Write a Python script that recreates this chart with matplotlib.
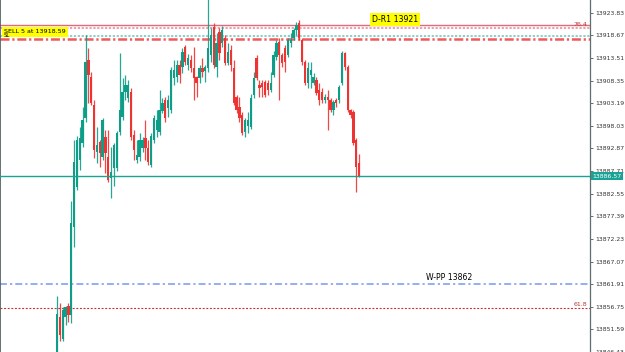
import matplotlib
matplotlib.use('Agg')
import matplotlib.pyplot as plt
import numpy as np

plt.rcParams.update({
    "font.family": "sans-serif",
    "font.sans-serif": ["DejaVu Sans"],
    "lines.scale_dashes": False,
})

# OHLC (one candle per bar, left to right)
opens = [13846.4, 13854.3, 13849.5, 13854.3, 13857.0, 13854.8, 13874.9, 13884.0, 13890.2, 13894.0,
         13899.8, 13913.0, 13909.1, 13902.7, 13892.0, 13894.3, 13890.8, 13895.4, 13890.8, 13886.1,
         13888.3, 13888.3, 13896.5, 13900.0, 13905.7, 13904.3, 13905.7, 13895.9, 13890.2, 13890.8,
         13892.9, 13895.2, 13892.9, 13889.0, 13894.7, 13897.0, 13896.5, 13901.4, 13903.9, 13902.0,
         13901.6, 13908.9, 13909.1, 13911.8, 13911.4, 13915.9, 13911.8, 13913.0, 13911.1, 13909.1,
         13908.9, 13911.1, 13910.5, 13911.1, 13914.1, 13920.5, 13911.4, 13919.4, 13916.9, 13918.0,
         13912.3, 13915.3, 13911.1, 13904.5, 13902.3, 13900.4, 13896.5, 13898.0, 13897.7, 13905.0,
         13913.4, 13907.3, 13907.7, 13908.0, 13907.7, 13906.1, 13909.6, 13913.7, 13917.1, 13914.1,
         13915.7, 13914.1, 13916.8, 13918.0, 13919.8, 13921.4, 13917.5, 13912.5, 13907.9, 13909.6,
         13907.9, 13908.4, 13906.1, 13905.7, 13903.9, 13904.5, 13903.9, 13901.6, 13903.9, 13903.9,
         13907.7, 13914.6, 13911.4, 13901.6, 13901.1, 13894.7, 13889.5]
highs = [13859.3, 13857.7, 13856.6, 13857.0, 13857.5, 13880.8, 13894.7, 13895.8, 13897.7, 13902.3,
         13918.7, 13915.7, 13910.2, 13903.9, 13897.7, 13894.7, 13899.8, 13897.0, 13897.0, 13893.1,
         13894.0, 13896.8, 13914.6, 13908.9, 13909.6, 13908.4, 13906.6, 13897.0, 13894.7, 13896.3,
         13895.4, 13899.3, 13894.7, 13896.3, 13900.4, 13901.6, 13906.1, 13904.3, 13904.5, 13905.0,
         13911.4, 13913.0, 13913.0, 13913.0, 13915.7, 13916.4, 13914.4, 13914.1, 13915.9, 13909.3,
         13911.8, 13913.5, 13912.0, 13930.0, 13920.3, 13921.4, 13919.1, 13920.3, 13920.7, 13918.7,
         13917.0, 13916.4, 13913.0, 13905.0, 13904.5, 13901.1, 13899.8, 13901.1, 13905.2, 13910.2,
         13914.1, 13908.4, 13908.4, 13908.4, 13908.4, 13910.2, 13915.0, 13917.5, 13918.0, 13914.6,
         13916.4, 13918.0, 13919.1, 13920.3, 13921.7, 13922.1, 13918.0, 13913.0, 13912.5, 13912.5,
         13910.0, 13909.1, 13907.9, 13906.6, 13905.2, 13906.1, 13904.3, 13903.9, 13904.3, 13907.3,
         13915.0, 13914.8, 13911.8, 13901.8, 13901.6, 13895.2, 13891.6]
lows = [13845.4, 13849.0, 13849.0, 13852.5, 13853.2, 13853.0, 13870.3, 13883.3, 13887.9, 13893.1,
        13898.9, 13903.2, 13902.7, 13890.6, 13889.5, 13888.6, 13890.2, 13887.2, 13885.1, 13881.5,
        13884.4, 13887.7, 13895.9, 13899.3, 13903.9, 13903.4, 13894.7, 13890.2, 13889.5, 13890.0,
        13892.0, 13890.2, 13889.0, 13888.6, 13894.0, 13895.4, 13895.9, 13900.9, 13898.9, 13900.0,
        13901.0, 13907.3, 13908.0, 13907.7, 13910.0, 13911.8, 13910.7, 13910.2, 13903.9, 13904.5,
        13907.7, 13909.1, 13908.0, 13910.2, 13912.5, 13911.1, 13909.1, 13913.0, 13916.0, 13911.8,
        13912.0, 13910.5, 13902.7, 13901.0, 13898.9, 13895.9, 13895.4, 13896.3, 13897.2, 13904.3,
        13908.4, 13904.5, 13904.5, 13904.5, 13905.0, 13905.7, 13909.1, 13913.0, 13903.9, 13911.4,
        13910.2, 13913.7, 13916.0, 13917.5, 13918.7, 13917.5, 13911.8, 13907.3, 13906.6, 13906.6,
        13907.3, 13905.0, 13902.7, 13903.2, 13903.2, 13897.0, 13901.1, 13900.4, 13902.3, 13903.2,
        13907.3, 13910.7, 13901.1, 13899.8, 13893.6, 13882.9, 13886.3]
closes = [13855.2, 13850.2, 13855.9, 13856.6, 13854.8, 13875.8, 13889.7, 13894.7, 13895.2, 13899.3,
          13912.5, 13909.6, 13903.2, 13892.4, 13893.6, 13891.8, 13899.3, 13891.8, 13885.6, 13887.4,
          13893.6, 13896.3, 13901.6, 13905.7, 13907.3, 13907.3, 13895.4, 13892.4, 13891.3, 13894.7,
          13894.7, 13892.9, 13889.7, 13895.6, 13899.8, 13899.3, 13901.6, 13903.2, 13899.8, 13903.9,
          13910.7, 13910.7, 13911.8, 13909.6, 13914.8, 13912.5, 13913.5, 13911.1, 13908.9, 13907.7,
          13911.1, 13910.2, 13911.4, 13915.7, 13918.7, 13911.8, 13916.8, 13914.6, 13919.8, 13912.3,
          13914.8, 13911.8, 13903.2, 13901.6, 13899.8, 13896.3, 13899.3, 13899.3, 13904.3, 13908.9,
          13908.9, 13906.6, 13906.8, 13905.0, 13906.1, 13907.7, 13914.1, 13916.9, 13914.1, 13912.3,
          13912.5, 13917.5, 13917.7, 13919.8, 13921.0, 13918.0, 13912.5, 13907.7, 13911.1, 13910.7,
          13909.1, 13905.5, 13903.9, 13903.9, 13904.5, 13903.9, 13901.6, 13903.4, 13903.2, 13906.8,
          13914.6, 13911.4, 13901.6, 13900.4, 13894.0, 13888.6, 13886.57]

# price axis labels
price_ticks = [13923.83, 13918.67, 13913.51, 13908.35, 13903.19, 13898.03, 13892.87, 13887.71,
               13882.55, 13877.39, 13872.23, 13867.07, 13861.91, 13856.75, 13851.59, 13846.43]

# horizontal levels
daily_r1 = 13921.0
fib_764 = 13920.35
sell_price = 13918.59
red_level = 13917.92
bid_price = 13886.57
weekly_pp = 13862.0
fib_618 = 13856.5

BULL = '#0e9e88'
BEAR = '#ee3333'


def draw_candles(ax):
    x = np.arange(len(opens))
    o = np.array(opens)
    c = np.array(closes)
    up = c >= o
    cols = np.where(up, BULL, BEAR)
    # wicks, then bodies on top
    ax.vlines(x, lows, highs, colors=cols, linewidth=0.9, alpha=0.9, zorder=3)
    bottoms = np.minimum(o, c)
    heights = np.maximum(np.abs(c - o), 0.4)
    ax.bar(x, heights, bottom=bottoms, width=0.82, color=cols, linewidth=0, zorder=4)


fig = plt.figure(figsize=(6.25, 3.52), dpi=100)
ax = fig.add_axes([0, 0, 590 / 625, 1])
ax.set_facecolor('white')

draw_candles(ax)

# levels
ax.axhline(daily_r1, color='#e06a78', linewidth=1.0, zorder=2)
ax.axhline(fib_764, color='#e89098', linewidth=1.2, dashes=(1.6, 1.2), zorder=2)
ax.axhline(sell_price, color='#7ec6be', linewidth=1.2, dashes=(1.6, 1.2), zorder=2)
ax.axhline(red_level, color='#f05a5a', linewidth=1.8, dashes=(6.5, 2.0, 1.6, 2.0), zorder=2)
ax.axhline(bid_price, color='#1aa394', linewidth=1.0, zorder=5)
ax.axhline(weekly_pp, color='#8ea8f2', linewidth=1.3, dashes=(5.0, 2.2, 1.6, 2.2), zorder=2)
ax.axhline(fib_618, color='#c83030', linewidth=0.8, dashes=(1.4, 1.2), zorder=2)

# level labels
ax.text(110.6, daily_r1 + 0.3, 'D-R1 13921', fontsize=5.6, color='black', va='bottom', ha='left',
        zorder=6, bbox=dict(boxstyle='square,pad=0.25', fc='#ffff00', ec='none'))
ax.text(129.5, weekly_pp + 0.5, 'W-PP 13862', fontsize=5.6, color='black', va='bottom', ha='left', zorder=6)
ax.text(0.995, fib_764 + 0.2, '76.4', transform=ax.get_yaxis_transform(), fontsize=4.5,
        color='#c03030', ha='right', va='bottom', zorder=6)
ax.text(0.995, fib_618 + 0.2, '61.8', transform=ax.get_yaxis_transform(), fontsize=4.5,
        color='#c03030', ha='right', va='bottom', zorder=6)
ax.text(-18.6, sell_price + 0.3, 'SELL 5 at 13918.59', fontsize=4.6, color='black', va='bottom',
        ha='left', zorder=6, bbox=dict(boxstyle='square,pad=0.35', fc='#ffff00', ec='none'))
ax.text(-18.6, sell_price - 0.45, 'SL', fontsize=3.8, color='black', va='bottom', ha='left', zorder=7)

# limits
ax.set_xlim(-20, 187)
ax.set_ylim(13846.75, 13926.72)

# right price scale
ax.yaxis.tick_right()
ax.set_yticks(price_ticks)
ax.set_yticklabels([f'{p:.2f}' for p in price_ticks])
ax.tick_params(axis='y', direction='out', length=2.5, width=0.6, pad=1.2,
               labelsize=4.4, labelcolor='#333333', color='#555555')
ax.set_xticks([])

for side in ['top', 'bottom']:
    ax.spines[side].set_visible(False)
ax.spines['right'].set_color('#5f6f6f')
ax.spines['right'].set_linewidth(0.9)
ax.spines['left'].set_color('#4a5a5a')
ax.spines['left'].set_linewidth(1.2)

# current bid label on the price scale
ax.text(1.004, bid_price, f'{bid_price:.2f}', transform=ax.get_yaxis_transform(), fontsize=4.4,
        color='white', ha='left', va='center', zorder=8, clip_on=False,
        bbox=dict(boxstyle='square,pad=0.3', fc='#1aa394', ec='none'))

fig.savefig('out.png', dpi=100, facecolor='white')
plt.close(fig)
